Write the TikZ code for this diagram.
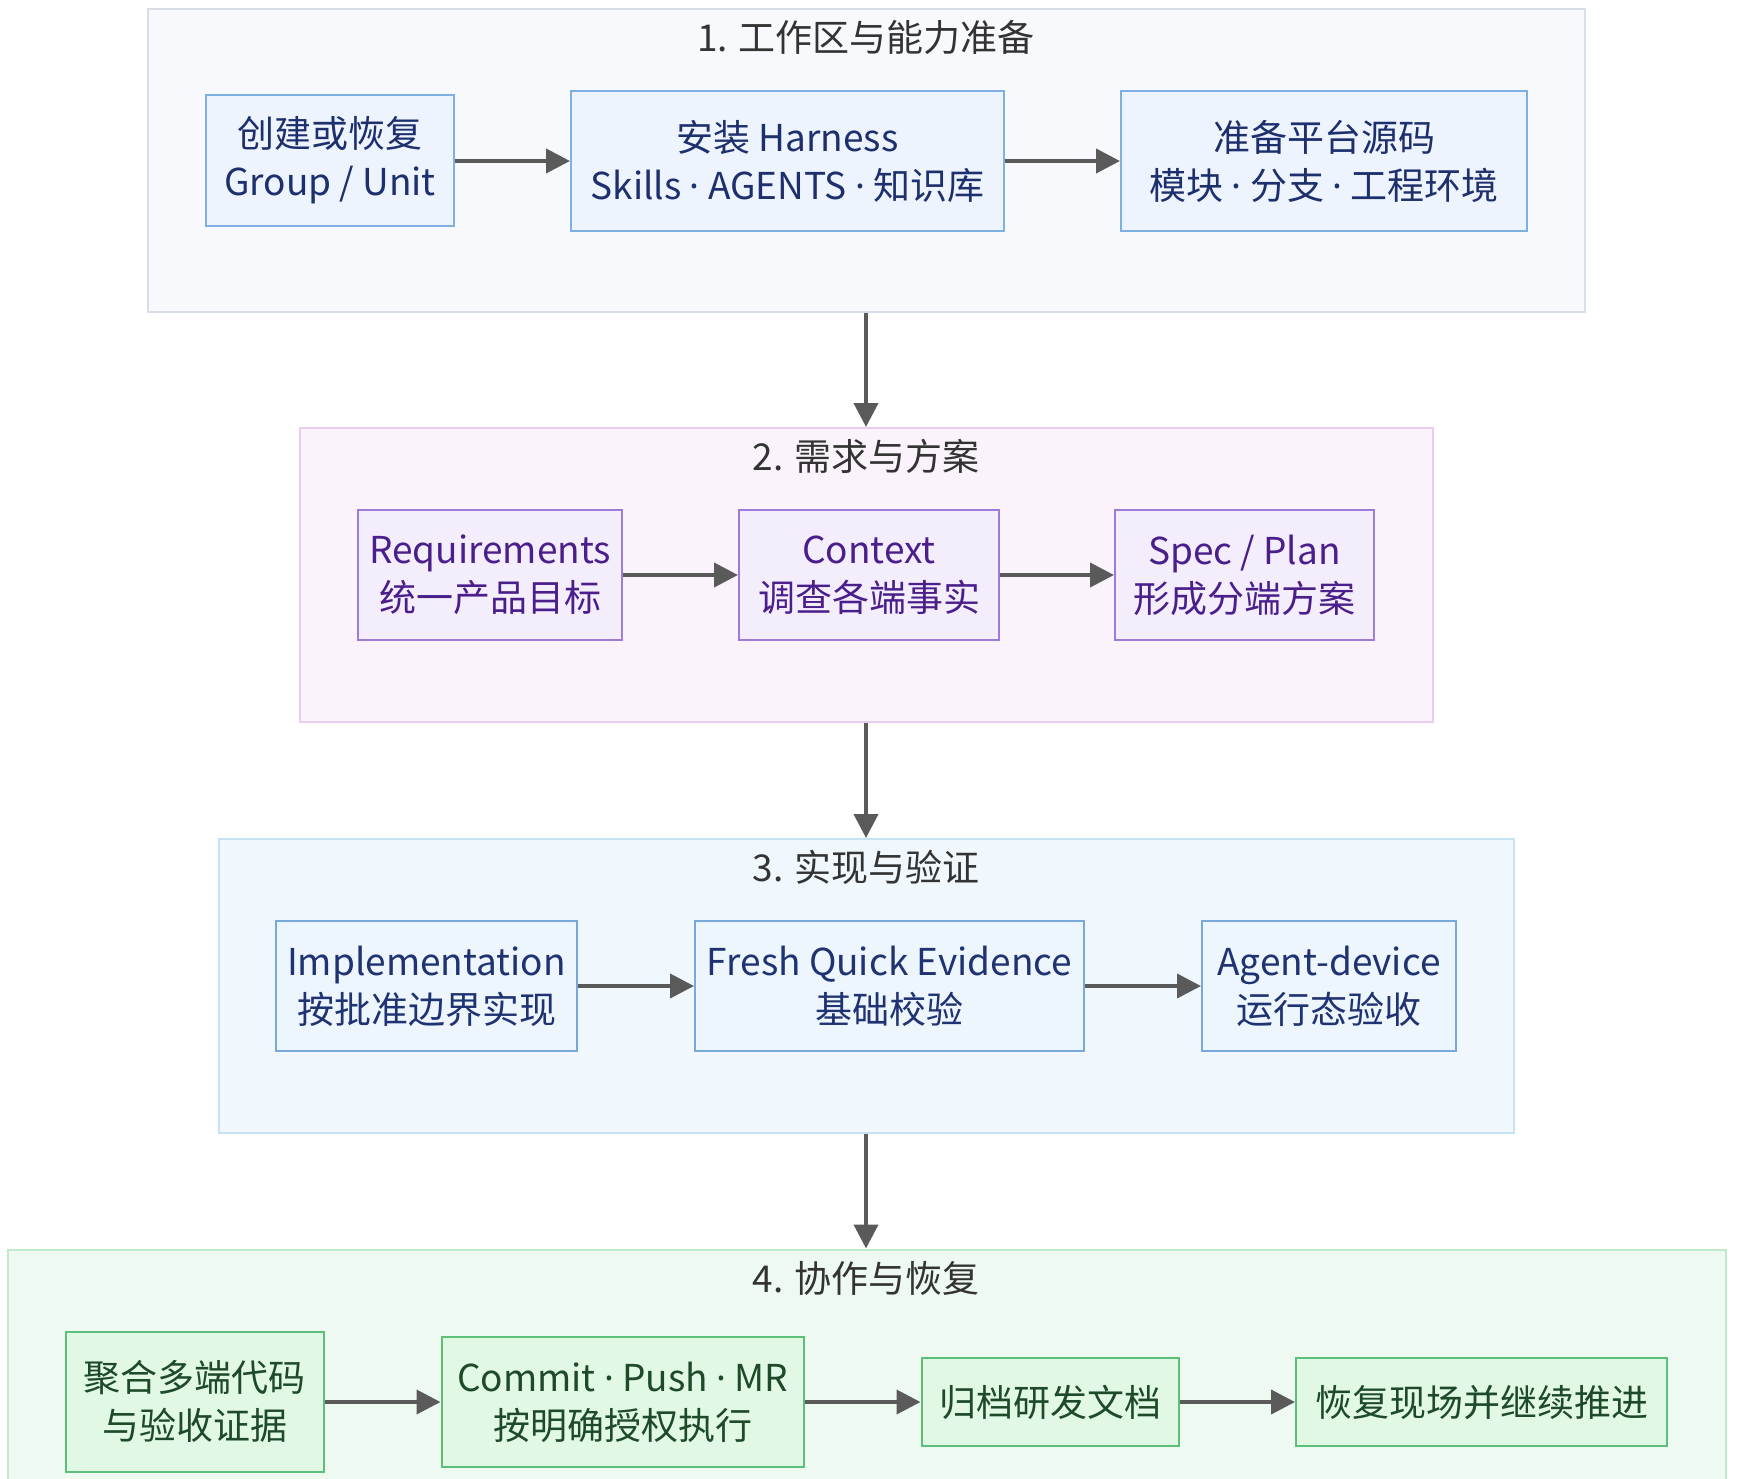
\documentclass[tikz,border=0pt]{standalone}
\usepackage{fontspec}
\setmainfont{Noto Sans CJK SC}
\newfontfamily\dotfont{Noto Sans}
\newcommand{\mdt}{{\dotfont ·}}
\usetikzlibrary{arrows.meta}
\definecolor{gAfill}{HTML}{F7F9FC}\definecolor{gAdraw}{HTML}{D8DEE8}
\definecolor{nAfill}{HTML}{EEF4FD}\definecolor{nAdraw}{HTML}{7FB0E3}\definecolor{nAtext}{HTML}{1E2F6E}
\definecolor{gBfill}{HTML}{FAF3FC}\definecolor{gBdraw}{HTML}{E8CDEE}
\definecolor{nBfill}{HTML}{F4EEFC}\definecolor{nBdraw}{HTML}{9D7BD8}\definecolor{nBtext}{HTML}{4A1F8C}
\definecolor{gCfill}{HTML}{F0F8FE}\definecolor{gCdraw}{HTML}{C5E3F3}
\definecolor{nCfill}{HTML}{EDF5FD}\definecolor{nCdraw}{HTML}{78A9DA}\definecolor{nCtext}{HTML}{1F3272}
\definecolor{gDfill}{HTML}{EEFAF1}\definecolor{gDdraw}{HTML}{C1EACB}
\definecolor{nDfill}{HTML}{E1F8E5}\definecolor{nDdraw}{HTML}{5CC07A}\definecolor{nDtext}{HTML}{1E4A2A}
\definecolor{ttl}{HTML}{333333}
\definecolor{arr}{HTML}{5A5A5A}
\begin{document}
\begin{tikzpicture}[x=1pt,y=-1pt,
  grp/.style={draw, line width=2pt, inner sep=0pt},
  box/.style={draw, line width=2pt, inner sep=0pt, align=center, font=\fontsize{37}{48}\selectfont},
  boxA/.style={box, fill=nAfill, draw=nAdraw, text=nAtext},
  boxB/.style={box, fill=nBfill, draw=nBdraw, text=nBtext},
  boxC/.style={box, fill=nCfill, draw=nCdraw, text=nCtext},
  boxD/.style={box, fill=nDfill, draw=nDdraw, text=nDtext},
  ttlstyle/.style={text=ttl, font=\fontsize{37}{48}\selectfont, inner sep=0pt},
  conn/.style={draw=arr, line width=4pt, -{Triangle[length=24pt,width=24pt]}},
  sz/.style n args={2}{minimum width=#1pt, minimum height=#2pt}]
\useasboundingbox (0,0) rectangle (1740,1478);
\fill[white] (0,0) rectangle (1740,1478);

% groups
\node[grp, fill=gAfill, draw=gAdraw, sz={1437}{303}] (g1) at (866,160.5) {};
\node[grp, fill=gBfill, draw=gBdraw, sz={1133}{294}] (g2) at (866,575) {};
\node[grp, fill=gCfill, draw=gCdraw, sz={1295}{294}] (g3) at (866,986) {};
\node[grp, fill=gDfill, draw=gDdraw, sz={1718}{260}] (g4) at (866.7,1379.5) {};

\node[ttlstyle] (t1) at (866,37) {1. 工作区与能力准备};
\node[ttlstyle] (t2) at (866,456) {2. 需求与方案};
\node[ttlstyle] (t3) at (866,867) {3. 实现与验证};
\node[ttlstyle] (t4) at (866,1278) {4. 协作与恢复};

% group 1
\node[boxA, sz={248}{131}] (a1) at (330,160.5) {创建或恢复\\Group / Unit};
\node[boxA, sz={433}{140}] (a2) at (787.5,161) {安装 Harness\\Skills \mdt{} AGENTS \mdt{} 知识库};
\node[boxA, sz={406}{140}] (a3) at (1324,161) {准备平台源码\\模块 \mdt{} 分支 \mdt{} 工程环境};

% group 2
\node[boxB, sz={264}{130}] (b1) at (490,575) {Requirements\\统一产品目标};
\node[boxB, sz={260}{130}] (b2) at (869,575) {Context\\调查各端事实};
\node[boxB, sz={259}{130}] (b3) at (1244.5,575) {Spec / Plan\\形成分端方案};

% group 3
\node[boxC, sz={301}{130}] (c1) at (426.5,986) {Implementation\\按批准边界实现};
\node[boxC, sz={389}{130}] (c2) at (889.5,986) {Fresh Quick Evidence\\基础校验};
\node[boxC, sz={254}{130}] (c3) at (1329,986) {Agent-device\\运行态验收};

% group 4
\node[boxD, sz={258}{140}] (d1) at (194.75,1401.5) {聚合多端代码\\与验收证据};
\node[boxD, sz={362}{130}] (d2) at (622.5,1402) {Commit \mdt{} Push \mdt{} MR\\按明确授权执行};
\node[boxD, sz={257}{88}] (d3) at (1050,1402) {归档研发文档};
\node[boxD, sz={371}{88}] (d4) at (1481.5,1402) {恢复现场并继续推进};

% connectors
\draw[conn] (a1.east |- a2) -- (a2);
\draw[conn] (a2) -- (a3);
\draw[conn] (b1) -- (b2);
\draw[conn] (b2) -- (b3);
\draw[conn] (c1) -- (c2);
\draw[conn] (c2) -- (c3);
\draw[conn] (d1.east |- d2) -- (d2);
\draw[conn] (d2) -- (d3);
\draw[conn] (d3) -- (d4);
\draw[conn] (g1.south -| t1) -- (g2.north -| t1);
\draw[conn] (g2.south -| t1) -- (g3.north -| t1);
\draw[conn] (g3.south -| t1) -- (g4.north -| t1);
\end{tikzpicture}
\end{document}
